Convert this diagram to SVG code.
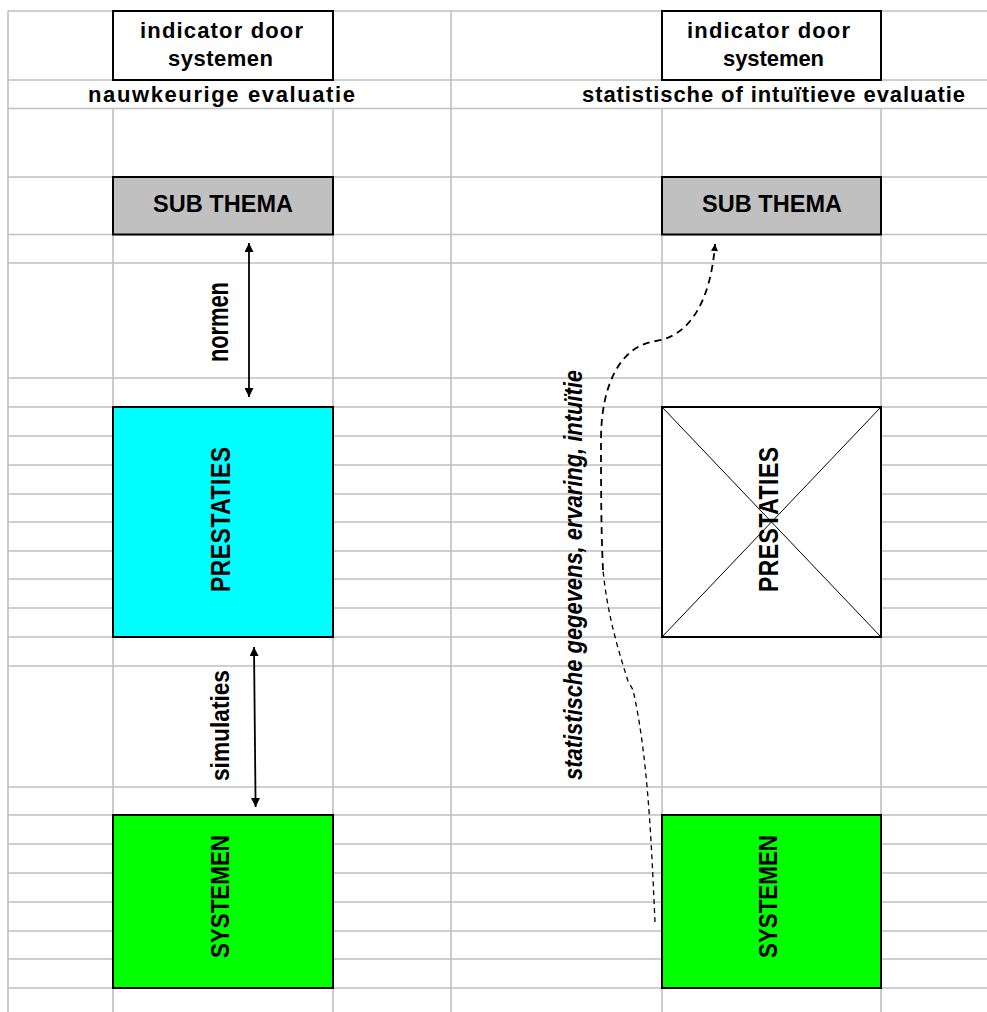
<svg xmlns="http://www.w3.org/2000/svg" width="987" height="1012" viewBox="0 0 987 1012">
  <style>
    .grid { stroke: #c0c0c0; stroke-width: 1.6; fill: none; }
    .box { stroke: #000; stroke-width: 2; }
    .t { font-family: "Liberation Sans", Arial, sans-serif; font-weight: bold; fill: #000; }
    .it { font-style: italic; }
    .conn { stroke: #000; fill: none; }
  </style>
  <defs>
    <marker id="head" viewBox="0 0 10 10" refX="10" refY="5" markerUnits="userSpaceOnUse" markerWidth="9" markerHeight="9" orient="auto-start-reverse">
      <path d="M0,0 L10,5 L0,10 z" fill="#000"/>
    </marker>
    <marker id="headSmall" viewBox="0 0 10 10" refX="10" refY="5" markerUnits="userSpaceOnUse" markerWidth="8" markerHeight="7" orient="auto">
      <path d="M0,0 L10,5 L0,10 z" fill="#000"/>
    </marker>
  </defs>

  <rect x="0" y="0" width="987" height="1012" fill="#fff"/>

  <!-- spreadsheet grid -->
  <g id="grid" class="grid">
    <path d="M8 11V1012 M451 11V1012 M113 108.5V1012 M333 108.5V1012 M662 108.5V1012 M881 108.5V1012"/>
    <path d="M8 11H987 M8 80H987 M8 108.5H987 M8 177H987 M8 234.5H987 M8 263H987 M8 378H987 M8 407H987 M8 436H987 M8 465H987 M8 494H987 M8 522H987 M8 551H987 M8 579H987 M8 608H987 M8 637H987 M8 666H987 M8 787H987 M8 815H987 M8 844H987 M8 873H987 M8 902H987 M8 931H987 M8 959H987 M8 988H987"/>
  </g>

  <!-- column headings -->
  <g id="header-left">
    <rect class="box" x="113" y="11" width="220" height="69" fill="#fff"/>
    <text class="t" x="140" y="37.5" font-size="22" textLength="163">indicator door</text>
    <text class="t" x="168" y="65.5" font-size="22" textLength="105">systemen</text>
  </g>
  <g id="header-right">
    <rect class="box" x="662" y="11" width="219" height="69" fill="#fff"/>
    <text class="t" x="687" y="37.5" font-size="22" textLength="163">indicator door</text>
    <text class="t" x="723" y="65.5" font-size="22" textLength="101">systemen</text>
  </g>
  <g id="label-left">
    <text class="t" x="88" y="102" font-size="22" textLength="267">nauwkeurige evaluatie</text>
  </g>
  <g id="label-right">
    <text class="t" x="582" y="102" font-size="22" textLength="383">statistische of intuïtieve evaluatie</text>
  </g>

  <!-- left column: exact evaluation -->
  <g id="subthema-left">
    <rect class="box" x="113" y="177" width="220" height="57.5" fill="#c0c0c0"/>
    <text class="t" x="153" y="212" font-size="23.5" textLength="140">SUB THEMA</text>
  </g>
  <g id="prestaties-left">
    <rect class="box" x="113" y="407" width="220" height="230" fill="#00ffff"/>
    <text class="t" font-size="23" transform="translate(229.5 592) rotate(-90) scale(1 1.2)" textLength="145">PRESTATIES</text>
  </g>
  <g id="systemen-left">
    <rect class="box" x="113" y="815" width="220" height="173" fill="#00ff00"/>
    <text class="t" font-size="22.4" transform="translate(228.5 958) rotate(-90) scale(1 1.18)" textLength="123">SYSTEMEN</text>
  </g>

  <!-- right column: statistical or intuitive evaluation -->
  <g id="subthema-right">
    <rect class="box" x="662" y="177" width="219" height="57.5" fill="#c0c0c0"/>
    <text class="t" x="702" y="212" font-size="23.5" textLength="140">SUB THEMA</text>
  </g>
  <g id="prestaties-right">
    <rect class="box" x="662" y="407" width="219" height="230" fill="#fff"/>
    <path d="M662 407L881 637M881 407L662 637" stroke="#000" stroke-width="1"/>
    <text class="t" font-size="23" transform="translate(777.5 592) rotate(-90) scale(1 1.2)" textLength="145">PRESTATIES</text>
  </g>
  <g id="systemen-right">
    <rect class="box" x="662" y="815" width="219" height="173" fill="#00ff00"/>
    <text class="t" font-size="22.4" transform="translate(777 958) rotate(-90) scale(1 1.18)" textLength="123">SYSTEMEN</text>
  </g>

  <!-- connectors and their labels -->
  <g id="connectors">
    <line class="conn" x1="249" y1="243" x2="249" y2="397" stroke-width="1.8" marker-start="url(#head)" marker-end="url(#head)"/>
    <text class="t" font-size="22" transform="translate(228 362) rotate(-90) scale(1 1.3)" textLength="80">normen</text>

    <line class="conn" x1="254" y1="647" x2="255.6" y2="807" stroke-width="1.8" marker-start="url(#head)" marker-end="url(#head)"/>
    <text class="t" font-size="22.7" transform="translate(229 781) rotate(-90) scale(1 1.17)" textLength="111">simulaties</text>

    <!-- dashed feedback route: fine lower stretch, heavier upper stretch -->
    <path class="conn" d="M655 922 C652 860 649 760 633 690 L628 681 C615 640 607 610 603 570" stroke-width="1.3" stroke-dasharray="5 4"/>
    <path class="conn" d="M603 570 C601 530 601 480 601 440 C601 385 620 346 656 341 C690 336 711 300 715 244" stroke-width="1.8" stroke-dasharray="7 5" marker-end="url(#headSmall)"/>
    <text class="t it" font-size="22" transform="translate(582 780) rotate(-90) scale(1 1.15)" textLength="410">statistische gegevens, ervaring, intuïtie</text>
  </g>
</svg>
